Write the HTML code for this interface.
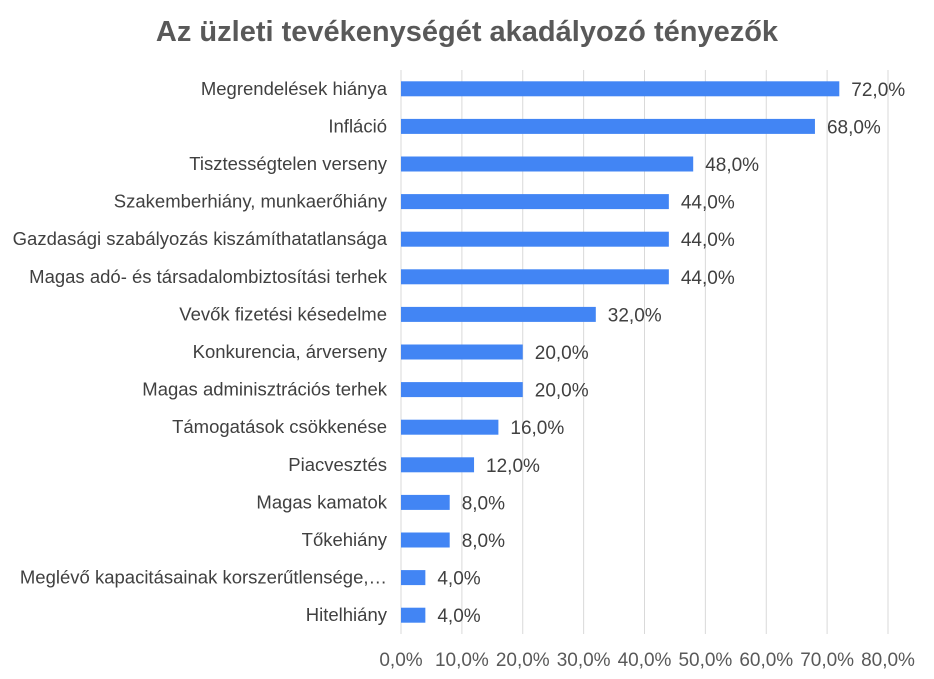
<!DOCTYPE html>
<html><head><meta charset="utf-8"><style>
body{margin:0;background:#fff;}
svg text{font-family:"Liberation Sans",sans-serif;}
</style></head><body>
<svg id="chart" width="934" height="674" xmlns="http://www.w3.org/2000/svg">
<rect width="934" height="674" fill="#fff"/>
<text x="467" y="41" text-anchor="middle" font-size="29" font-weight="bold" fill="#595959">Az üzleti tevékenységét akadályozó tényezők</text>
<g id="grid"></g><g id="bars"></g><g id="labels"></g>
</svg>
<script>
const categories=["Megrendelések hiánya","Infláció","Tisztességtelen verseny","Szakemberhiány, munkaerőhiány","Gazdasági szabályozás kiszámíthatatlansága","Magas adó- és társadalombiztosítási terhek","Vevők fizetési késedelme","Konkurencia, árverseny","Magas adminisztrációs terhek","Támogatások csökkenése","Piacvesztés","Magas kamatok","Tőkehiány","Meglévő kapacitásainak korszerűtlensége,…","Hitelhiány"];
const values=[72,68,48,44,44,44,32,20,20,16,12,8,8,4,4];
const ticks=[0,10,20,30,40,50,60,70,80];
const tickLabels=["0,0%","10,0%","20,0%","30,0%","40,0%","50,0%","60,0%","70,0%","80,0%"];
(function(){
const NS="http://www.w3.org/2000/svg";
const x0=401,x1=888,yTop=70,yBottom=634;
const xs=v=>x0+(v/80)*(x1-x0);
const step=(yBottom-yTop)/categories.length;
const yc=i=>yTop+step*(i+0.5);
function mk(t,a,p){const e=document.createElementNS(NS,t);for(const k in a)e.setAttribute(k,a[k]);document.getElementById(p).appendChild(e);return e;}
ticks.forEach((t,i)=>{
 const l=mk('line',{x1:xs(t),x2:xs(t),y1:yTop,y2:yBottom,stroke:'#d9d9d9','stroke-width':1},'grid');
 
 
 const tx=mk('text',{x:xs(t),y:666,'text-anchor':'middle','font-size':19,fill:'#595959'},'labels');
 tx.textContent=tickLabels[i];
 
 
});
categories.forEach((c,i)=>{
 const y=yc(i);
 const r=mk('rect',{x:x0,y:y-7.5,width:xs(values[i])-x0,height:15,fill:'#4285f4'},'bars');
 
 
 const cl=mk('text',{x:387,y:y+6,'text-anchor':'end','font-size':18.5,fill:'#404040'},'labels');
 cl.textContent=c;
 
 
 const vl=mk('text',{x:xs(values[i])+12,y:y+7,'font-size':19,fill:'#404040'},'labels');
 vl.textContent=values[i].toFixed(1).replace('.',',')+'%';
 
 
});
})();
</script>
</body></html>
